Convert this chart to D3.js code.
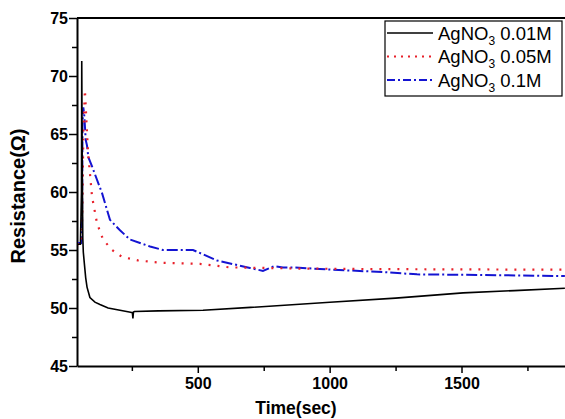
<!DOCTYPE html>
<html><head><meta charset="utf-8">
<script src="https://cdn.jsdelivr.net/npm/d3@7"></script>
<style>body{margin:0;background:#fff}svg{display:block}</style>
</head><body>
<svg id="c" width="565" height="419"></svg>
<script>
const seriesNames = ["AgNO3 0.01M", "AgNO3 0.05M", "AgNO3 0.1M"];
const t001 = [42, 55, 59, 60, 62, 64, 66, 70, 75, 80, 91, 110, 129, 160, 205, 240, 252, 254, 256, 260, 350, 520, 700, 1001, 1250, 1506, 1700, 1892];
const r001 = [55.5, 55.5, 60, 71.3, 62, 56, 54.8, 53.8, 52.6, 51.8, 50.9, 50.5, 50.3, 50.0, 49.8, 49.65, 49.6, 49.1, 49.65, 49.7, 49.75, 49.8, 50.05, 50.5, 50.85, 51.3, 51.5, 51.7];
const t005 = [42, 58, 62, 66, 72, 78, 84, 99, 118, 141, 175, 213, 273, 357, 508, 622, 888, 1200, 1892];
const r005 = [55.5, 55.5, 58, 65, 68.8, 66, 63.4, 59.6, 57.3, 55.9, 55.0, 54.4, 54.1, 53.9, 53.8, 53.5, 53.4, 53.35, 53.3];
const t01 = [42, 58, 61, 63, 66, 70, 75, 80, 85, 99, 137, 167, 205, 243, 319, 368, 482, 573, 698, 747, 790, 823, 861, 1013, 1202, 1331, 1582, 1892];
const r01 = [55.6, 55.6, 56.5, 66, 67.3, 66.5, 64.5, 64, 63, 62.2, 59.9, 57.6, 56.7, 55.9, 55.3, 55.0, 55.0, 54.1, 53.45, 53.2, 53.6, 53.5, 53.5, 53.3, 53.1, 52.9, 52.85, 52.75];
const xTicks = [500, 1000, 1500];
const xMinor = [250, 750, 1250, 1750];
const yTicks = [45, 50, 55, 60, 65, 70, 75];
const yMinor = [47.5, 52.5, 57.5, 62.5, 67.5, 72.5];

const svg = d3.select("#c");
const x = d3.scaleLinear().domain([42, 1900]).range([77, 567]);
const y = d3.scaleLinear().domain([45, 75]).range([366, 18]);
const font = "Liberation Sans, Arial, sans-serif";

// frame top
svg.append("line").attr("x1", 77).attr("x2", 565).attr("y1", y(75)).attr("y2", y(75))
  .attr("stroke", "#000").attr("stroke-width", 2);

// axes
const xAxis = d3.axisBottom(x).tickValues(xTicks).tickSize(7).tickSizeOuter(0).tickFormat(d3.format("d"));
const gx = svg.append("g").attr("transform", `translate(0,${y(45)})`).call(xAxis);
gx.select(".domain").attr("stroke-width", 2);
gx.selectAll(".tick line").attr("stroke-width", 1.5);
gx.selectAll("text").attr("font-family", font).attr("font-weight", "bold").attr("font-size", 16).attr("dy", "0.9em").attr("y", 9);
const gxm = svg.append("g").attr("transform", `translate(0,${y(45)})`)
  .call(d3.axisBottom(x).tickValues(xMinor).tickSize(5).tickFormat(""));
gxm.select(".domain").remove();
gxm.selectAll(".tick line").attr("stroke-width", 1.5);

const yAxis = d3.axisLeft(y).tickValues(yTicks).tickSize(8).tickSizeOuter(0);
const gy = svg.append("g").attr("transform", `translate(${x(42)},0)`).call(yAxis);
gy.select(".domain").attr("stroke-width", 2);
gy.selectAll(".tick line").attr("stroke-width", 1.5);
gy.selectAll("text").attr("font-family", font).attr("font-weight", "bold").attr("font-size", 16).attr("x", -9);
const gym = svg.append("g").attr("transform", `translate(${x(42)},0)`)
  .call(d3.axisLeft(y).tickValues(yMinor).tickSize(5).tickFormat(""));
gym.select(".domain").remove();
gym.selectAll(".tick line").attr("stroke-width", 1.5);

// clip
svg.append("clipPath").attr("id", "pc").append("rect").attr("x", 78).attr("y", 0).attr("width", 500).attr("height", 365);

const line = d3.line().x(d => x(d[0])).y(d => y(d[1]));
const zip = (a, b) => a.map((v, i) => [v, b[i]]);
const plot = svg.append("g").attr("clip-path", "url(#pc)");
plot.append("path").datum(zip(t01, r01)).attr("d", line).attr("fill", "none")
  .attr("stroke", "#1414d2").attr("stroke-width", 2).attr("stroke-dasharray", "11,3,2,3");
plot.append("path").datum(zip(t005, r005)).attr("d", line).attr("fill", "none")
  .attr("stroke", "#e8202a").attr("stroke-width", 2.2).attr("stroke-dasharray", "2,7");
plot.append("path").datum(zip(t001, r001)).attr("d", line).attr("fill", "none")
  .attr("stroke", "#000").attr("stroke-width", 1.6);

// legend
const lg = svg.append("g");
lg.append("rect").attr("x", 385).attr("y", 21).attr("width", 177).attr("height", 75)
  .attr("fill", "#fff").attr("stroke", "#000").attr("stroke-width", 1.2);
const styles = [
  {c: "#000", w: 1.6, d: null},
  {c: "#e8202a", w: 2, d: "2,5"},
  {c: "#1414d2", w: 2, d: "8,3,2,3"}
];
const conc = ["0.01M", "0.05M", "0.1M"];
seriesNames.forEach((n, i) => {
  const yy = 33 + i * 23.5;
  lg.append("line").attr("x1", 387).attr("x2", 433).attr("y1", yy).attr("y2", yy)
    .attr("stroke", styles[i].c).attr("stroke-width", styles[i].w).attr("stroke-dasharray", styles[i].d);
  const t = lg.append("text").attr("x", 438).attr("y", yy + 6.5).attr("font-family", font).attr("font-size", 18.5).attr("fill", "#000");
  t.append("tspan").text("AgNO");
  t.append("tspan").attr("font-size", 12).attr("dy", 5).text("3");
  t.append("tspan").attr("dy", -5).text(" " + conc[i]);
});

// axis titles
svg.append("text").attr("x", 296).attr("y", 414).attr("text-anchor", "middle")
  .attr("font-family", font).attr("font-weight", "bold").attr("font-size", 17.5).text("Time(sec)");
svg.append("text").attr("transform", "translate(25,196) rotate(-90)").attr("text-anchor", "middle")
  .attr("font-family", font).attr("font-weight", "bold").attr("font-size", 20).text("Resistance(Ω)");
</script>
</body></html>
